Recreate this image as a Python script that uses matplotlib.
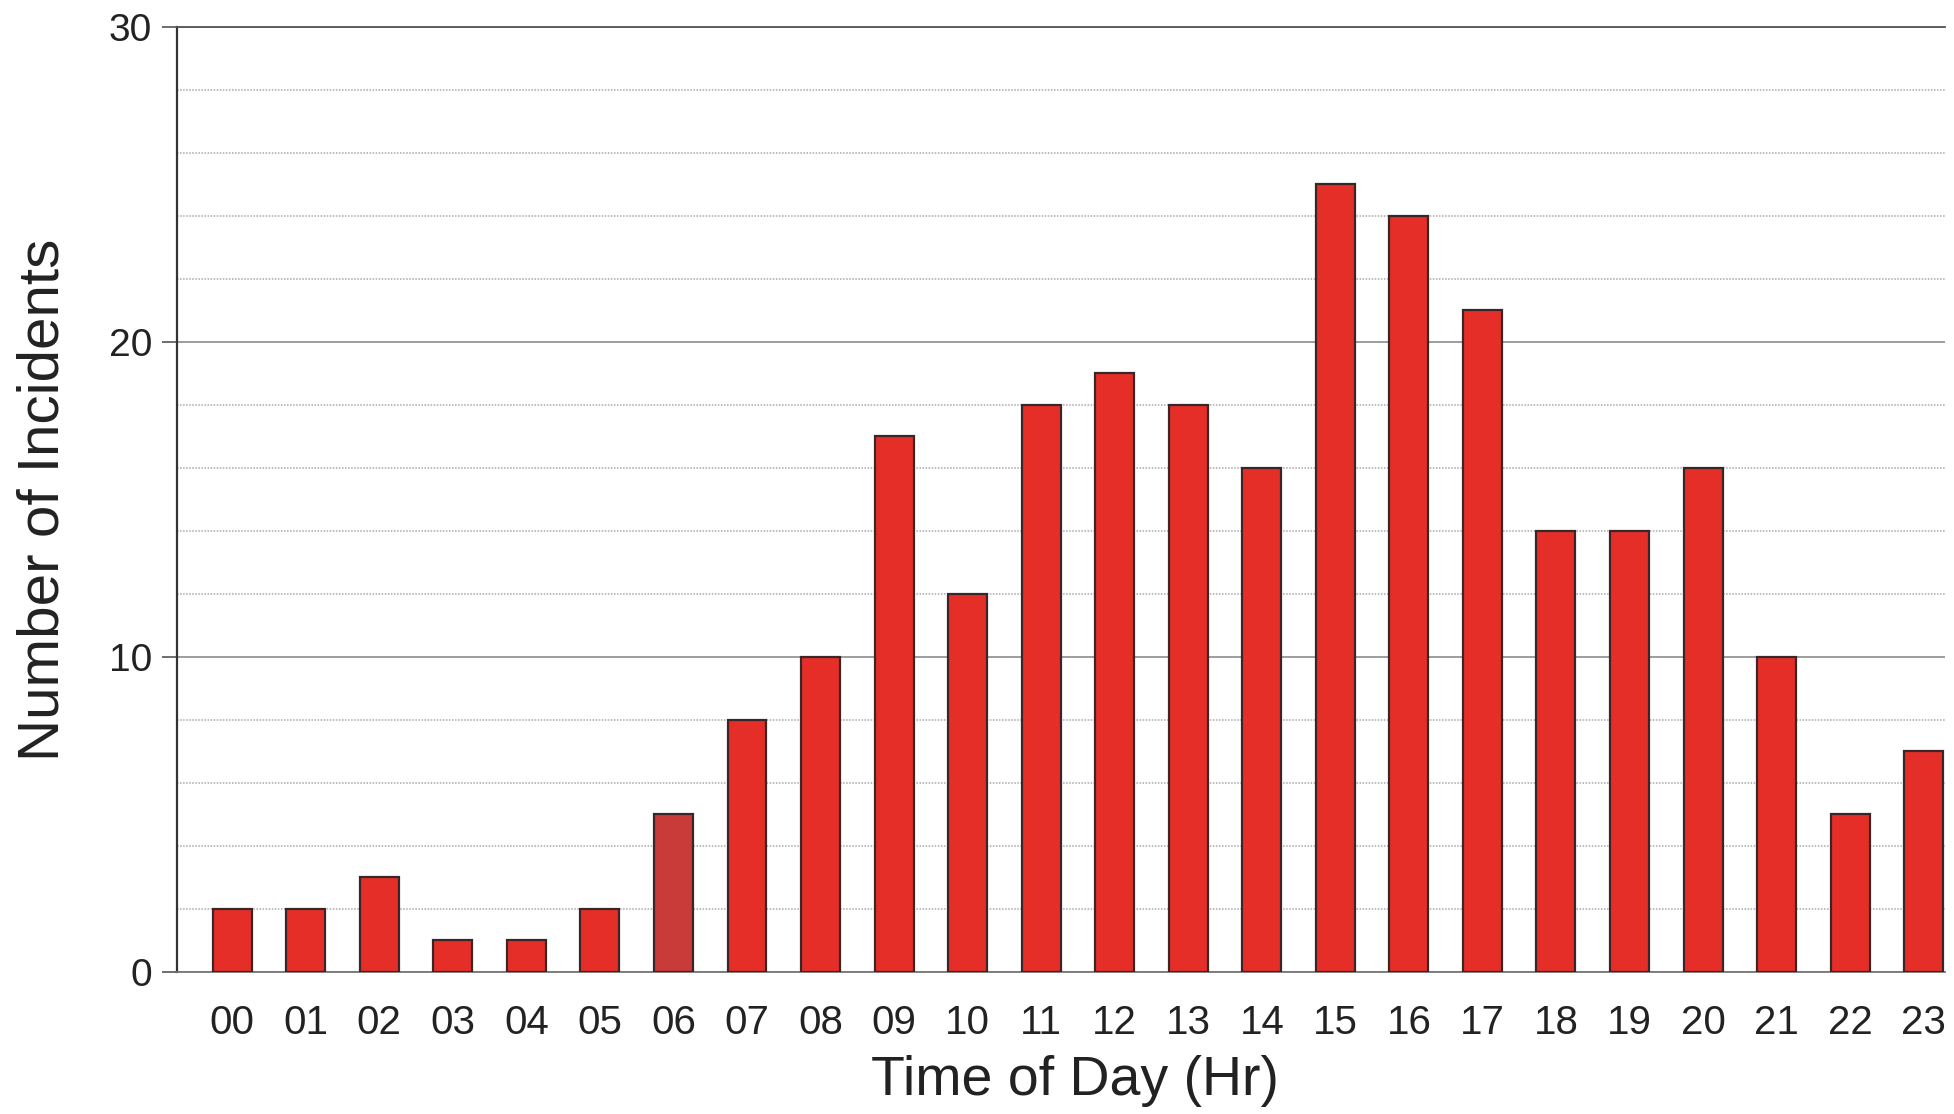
import numpy as np
import matplotlib
matplotlib.use('Agg')
import matplotlib.pyplot as plt
from matplotlib.ticker import MultipleLocator

plt.rcParams['font.family'] = ['Liberation Sans', 'DejaVu Sans']

horas = ['00', '01', '02', '03', '04', '05', '06', '07', '08', '09', '10', '11',
         '12', '13', '14', '15', '16', '17', '18', '19', '20', '21', '22', '23']
incidentes = [2, 2, 3, 1, 1, 2, 5, 8, 10, 17, 12, 18,
              19, 18, 16, 25, 24, 21, 14, 14, 16, 10, 5, 7]

vermelho = '#e52e27'
vermelho_escuro = '#c83b39'  # a barra das 06 sai mais escura no original

fig = plt.figure(figsize=(19.54, 11.14), dpi=100)
ax = fig.add_axes([0.0906, 0.1275, 0.9048, 0.8483])

x = np.arange(len(horas))
cores = [vermelho] * len(horas)
cores[6] = vermelho_escuro
ax.bar(x, incidentes, width=0.53, color=cores, edgecolor='#3a2626',
       linewidth=1.6, zorder=3)

ax.set_xlim(-0.75, 23.29)
ax.set_ylim(0, 30)
ax.set_xticks(x)
ax.set_xticklabels(horas)
ax.set_yticks([0, 10, 20, 30])
ax.yaxis.set_minor_locator(MultipleLocator(2))

ax.grid(axis='y', which='major', color='#8c8c8c', linewidth=1.2, linestyle='-', zorder=0)
ax.grid(axis='y', which='minor', color='#a8a8a8', linewidth=1.1, linestyle=(0, (1, 1)), zorder=0)

ax.tick_params(axis='x', length=0, pad=23, labelsize=29, labelcolor='#222222')
ax.tick_params(axis='y', which='major', length=11, width=1.2, color='#555555',
               pad=7, labelsize=28, labelcolor='#222222')
ax.tick_params(axis='y', which='minor', length=0)

ax.spines['right'].set_visible(False)
ax.spines['top'].set_color('#555555')
ax.spines['top'].set_linewidth(1.3)
ax.spines['left'].set_color('#333333')
ax.spines['left'].set_linewidth(1.6)
ax.spines['bottom'].set_color('#777777')
ax.spines['bottom'].set_linewidth(1.3)

ax.set_xlabel('Time of Day (Hr)', fontsize=40, color='#222222')
ax.set_ylabel('Number of Incidents', fontsize=42, color='#222222')
ax.xaxis.set_label_coords(0.508, -0.088)
ax.yaxis.set_label_coords(-0.06, 0.5)

fig.savefig('out.png', dpi=100)
